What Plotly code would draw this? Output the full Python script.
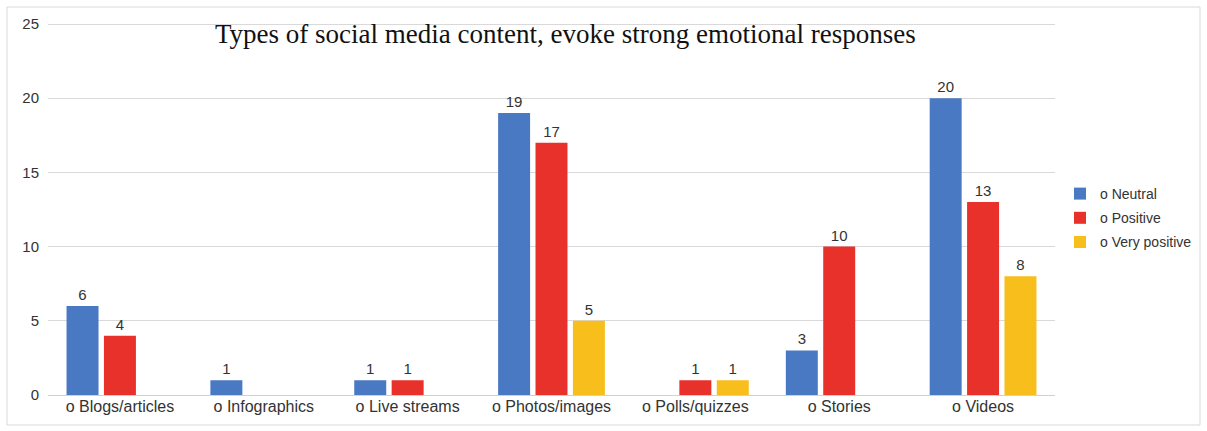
import plotly.graph_objects as go

categories = ["o Blogs/articles", "o Infographics", "o Live streams", "o Photos/images",
              "o Polls/quizzes", "o Stories", "o Videos"]
neutral = [6, 1, 1, 19, None, 3, 20]
positive = [4, None, 1, 17, 1, 10, 13]
very_positive = [None, None, None, 5, 1, None, 8]

series = [
    ("o Neutral", neutral, "#4A79C3"),
    ("o Positive", positive, "#E8312B"),
    ("o Very positive", very_positive, "#F8BE1C"),
]

fig = go.Figure()
for name, vals, col in series:
    fig.add_trace(go.Bar(
        x=categories, y=vals, name=name, legendgroup=name,
        marker=dict(color=col, line=dict(width=0)),
        text=[("" if v is None else str(v)) for v in vals],
        textposition="outside", cliponaxis=False,
        textfont=dict(family="Liberation Sans, Arial", size=15, color="#333333"),
    ))

W, H = 1207, 431
unit = (395 - 24) / 25.0
L, R, T, B = 48, 152, 19, 36
pw, ph = W - L - R, H - T - B
YMAX = (395 - T) / unit

fig.update_layout(
    width=W, height=H,
    margin=dict(l=L, r=R, t=T, b=B, autoexpand=False),
    paper_bgcolor="white", plot_bgcolor="white",
    barmode="group", bargap=0.22, bargroupgap=0.145,
    showlegend=True,
    legend=dict(xref="container", yref="container",
                x=1060 / W, xanchor="left", y=1 - 218 / H, yanchor="middle",
                font=dict(family="Liberation Sans, Arial", size=14, color="#333333"),
                itemwidth=30, tracegroupgap=3, bgcolor="rgba(0,0,0,0)"),
    font=dict(family="Liberation Sans, Arial", size=15, color="#333333"),
    xaxis=dict(showgrid=False, showline=False, ticks="", automargin=False,
               tickfont=dict(size=16, color="#333333")),
    yaxis=dict(range=[0, YMAX], tickvals=[0, 5, 10, 15, 20, 25], showgrid=True,
               gridcolor="#D9D9D9", gridwidth=1, automargin=False,
               zeroline=True, zerolinecolor="#D0D0D0", zerolinewidth=1,
               showline=False, ticks="", ticklabelstandoff=8,
               tickfont=dict(size=15, color="#333333")),
    annotations=[dict(
        text="Types of social media content, evoke strong emotional responses",
        xref="paper", yref="paper", x=(565 - L) / pw, y=(H - B - 34) / ph,
        xanchor="center", yanchor="middle", showarrow=False,
        font=dict(family="Liberation Serif, Times New Roman", size=27, color="#111111"),
    )],
    shapes=[dict(type="rect", xref="paper", yref="paper",
                 x0=(7 - L) / pw, x1=(1200 - L) / pw,
                 y0=(H - B - 425) / ph, y1=(H - B - 7) / ph,
                 line=dict(color="#D9D9D9", width=1), fillcolor="rgba(0,0,0,0)", layer="below")],
)

fig.write_html("out.html", config={"displayModeBar": False},
               post_script="document.body.style.margin='0';")
